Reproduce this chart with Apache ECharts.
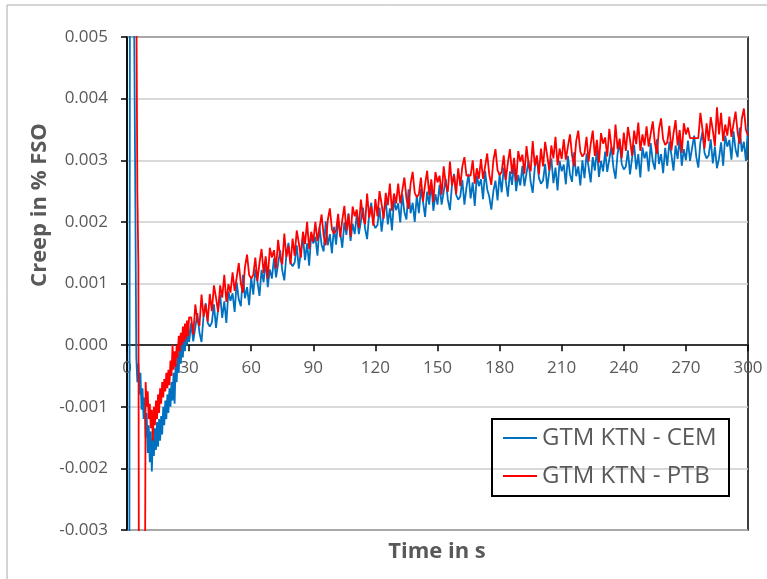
<!DOCTYPE html>
<html>
<head>
<meta charset="utf-8">
<script src="https://cdn.jsdelivr.net/npm/echarts@6/dist/echarts.min.js"></script>
<style>
html,body{margin:0;padding:0;background:#fff;}
#chart{width:767px;height:579px;}
</style>
</head>
<body>
<div id="chart"></div>
<script>
// Sampling: 0..30 s every 0.5 s, then 31..300 s every 1 s
const times = [];
for (let i = 0; i <= 60; i++) times.push(i * 0.5);
for (let t = 31; t <= 300; t++) times.push(t);

// Values in units of 1e-5 % FSO
const cemEarly = [-900,-900,-900,900,900,900,900,500,250,-20,-60,-30,-80,-45,-105,-70,-120,-85,-150,-110,-175,-130,-190,-140,-205,-150,-180,-135,-170,-125,-165,-120,-155,-115,-145,-100,-130,-90,-120,-80,-110,-70,-100,-60,-90,-45,-95,-30,-60,-15,-45,0,-30,10,-20,20,-10,30,0,35,5];
const cemLate = [
36,6,29,52,20,5,48,68,36,30,
37,66,28,58,82,44,71,36,87,72,
84,54,102,74,63,114,76,94,65,110,
82,123,103,80,122,102,138,94,123,108,
141,110,132,154,121,105,147,166,134,128,
134,162,124,153,176,138,165,129,180,165,
176,145,192,163,152,201,162,180,149,192,
163,203,183,158,199,179,214,169,197,180,
212,180,201,223,189,172,213,231,198,190,
195,223,184,213,235,196,222,186,235,219,
230,199,245,216,204,253,214,231,200,243,
214,254,233,208,249,228,263,218,245,228,
260,228,249,270,236,219,260,278,244,236,
241,268,228,256,278,238,264,226,275,258,
269,237,283,253,241,220,250,267,235,277,
248,288,266,241,282,260,295,250,276,259,
291,258,279,299,265,247,288,305,271,262,
267,294,254,282,303,263,288,251,299,282,
293,261,307,277,265,313,274,290,259,300,
271,311,289,264,305,283,318,273,299,282,
314,281,302,322,288,270,311,328,294,285,
290,316,277,304,325,285,310,272,321,303,
314,282,328,298,285,334,294,310,279,320,
291,330,309,283,324,302,337,291,318,300,
332,299,320,340,306,288,329,346,312,303,
308,334,295,322,287,303,329,291,340,322,
333,301,347,317,305,353,314,330,299,355];

const ptbEarly = [900,900,900,900,900,900,900,900,900,900,250,130,-900,-900,-900,-900,-900,-600,-60,-100,-75,-120,-95,-135,-105,-155,-100,-130,-90,-120,-80,-110,-70,-95,-60,-85,-55,-75,-45,-70,-40,-65,-25,-50,0,-40,-10,-35,0,-20,15,-10,20,0,30,5,35,10,40,15,45];
const ptbLate = [
45,17,66,40,31,82,46,66,38,83,
55,97,77,54,97,77,114,70,99,85,
118,88,110,133,100,85,127,147,114,108,
114,142,104,133,156,117,144,108,158,142,
154,124,171,143,131,181,143,161,131,173,
145,186,166,142,184,164,200,156,184,168,
200,169,190,212,178,162,203,222,188,181,
186,213,175,203,226,186,212,176,225,209,
220,190,236,208,196,246,207,225,194,237,
209,250,229,205,247,227,262,218,246,230,
262,230,251,272,238,221,262,281,247,240,
245,272,233,261,283,243,269,232,281,264,
275,244,290,261,249,298,259,276,245,287,
258,290,305,275,275,275,300,262,287,270,
302,270,290,311,277,260,300,318,284,276,
281,308,268,296,318,278,304,266,315,298,
309,278,323,294,282,331,291,308,277,319,
290,330,308,283,324,303,338,292,319,302,
334,301,322,342,308,290,331,348,314,306,
311,338,298,326,348,307,333,296,344,327,
337,306,351,322,309,358,318,335,303,345,
315,354,333,307,348,326,361,315,342,324,
355,322,343,363,328,311,351,368,334,325,
329,356,316,343,365,324,349,312,360,342,
353,336,336,336,336,336,377,350,319,360,
331,370,349,323,386,342,377,331,358,340,
371,338,359,379,345,327,367,384,349,340];

const seriesNames = ['GTM KTN - CEM', 'GTM KTN - PTB'];
const xTicks = {min: 0, max: 300, interval: 30};
const yTicks = {min: -0.003, max: 0.005, interval: 0.001};

const cem = cemEarly.concat(cemLate);
const ptb = ptbEarly.concat(ptbLate);
const toPairs = arr => times.map((t, i) => [t, arr[i] / 1e5]);

// grid geometry
const G = {left: 127, top: 37, right: 19, bottom: 49};
const plotH = 579 - G.top - G.bottom;
const zeroOffset = -plotH * (0 - yTicks.min) / (yTicks.max - yTicks.min);

const FONT = '"Open Sans", "Liberation Sans", sans-serif';
const chart = echarts.init(document.getElementById('chart'));
chart.setOption({
  animation: false,
  backgroundColor: '#fff',
  grid: {left: G.left, top: G.top, right: G.right, bottom: G.bottom, show: true, borderColor: '#000', borderWidth: 1.5, containLabel: false},
  xAxis: {
    type: 'value', min: xTicks.min, max: xTicks.max, interval: xTicks.interval,
    position: 'bottom', offset: zeroOffset,
    axisLine: {show: true, onZero: false, lineStyle: {color: '#000', width: 1.5}},
    axisTick: {show: true, length: 6, lineStyle: {color: '#000', width: 1.5}},
    axisLabel: {color: '#595959', fontSize: 17, fontFamily: FONT, margin: 15},
    splitLine: {show: false}
  },
  yAxis: {
    type: 'value', min: yTicks.min, max: yTicks.max, interval: yTicks.interval,
    axisLine: {show: true, lineStyle: {color: '#000', width: 1.5}},
    axisTick: {show: true, length: 6, lineStyle: {color: '#000', width: 1.5}},
    axisLabel: {color: '#595959', fontSize: 17, fontFamily: FONT, margin: 19,
      formatter: v => v.toFixed(3)},
    splitLine: {show: true, lineStyle: {color: '#cccccc', width: 1.5}}
  },
  legend: {
    orient: 'vertical', left: 503, top: 424, padding: 0, itemGap: 10,
    icon: 'rect', itemWidth: 34, itemHeight: 2,
    textStyle: {color: '#595959', fontSize: 24, fontFamily: FONT, lineHeight: 28},
    data: seriesNames
  },
  graphic: [
    {type: 'rect', shape: {x: 7, y: 5, width: 800, height: 700}, style: {fill: 'none', stroke: '#aaaaaa', lineWidth: 1}, silent: true, z: -10},
    {type: 'rect', shape: {x: 492, y: 419, width: 237, height: 77}, style: {fill: 'none', stroke: '#000', lineWidth: 2}, silent: true, z: 10},
    {type: 'text', x: 40, y: 205, rotation: Math.PI / 2,
      style: {text: 'Creep in % FSO', fill: '#595959', font: 'bold 22px ' + FONT, textAlign: 'center', textVerticalAlign: 'middle'}},
    {type: 'text', x: 437, y: 552,
      style: {text: 'Time in s', fill: '#595959', font: 'bold 22px ' + FONT, textAlign: 'center', textVerticalAlign: 'middle'}}
  ],
  series: [
    {name: seriesNames[0], type: 'line', data: toPairs(cem), showSymbol: false, symbol: 'none',
      lineStyle: {color: '#0070C0', width: 1.8}, itemStyle: {color: '#0070C0'}, clip: true},
    {name: seriesNames[1], type: 'line', data: toPairs(ptb), showSymbol: false, symbol: 'none',
      lineStyle: {color: '#FF0000', width: 1.8}, itemStyle: {color: '#FF0000'}, clip: true}
  ]
});
</script>
</body>
</html>
